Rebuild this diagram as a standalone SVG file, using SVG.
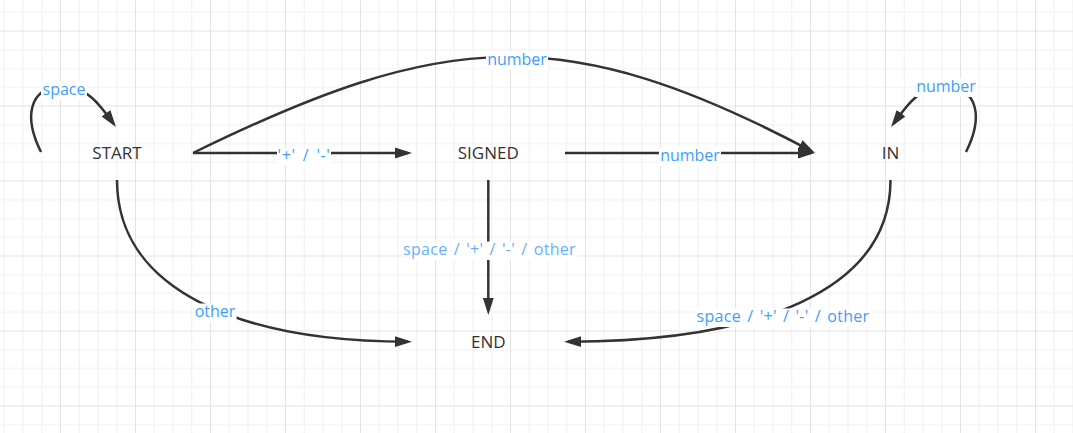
<svg xmlns="http://www.w3.org/2000/svg" width="1073" height="433" viewBox="0 0 1073 433">
  <style>
    .node { font-family: "Open Sans", "Liberation Sans", sans-serif; font-size: 17px; fill: #333333; text-anchor: middle; }
    .edge { fill: none; stroke: #333333; stroke-width: 2.5; marker-end: url(#arrow); }
    .loop { fill: none; stroke: #333333; stroke-width: 2.5; marker-end: url(#arrow); }
    .lbl { font-family: "Open Sans", "Liberation Sans", sans-serif; font-size: 16px; fill: #409eff; text-anchor: middle; }
    .lbl.light { fill: #66b1ff; }
    .lblbg { fill: #ffffff; }
    .gmin { fill: #efefef; }
    .gmaj { fill: #e3e3e3; }
  </style>
  <defs>
    <pattern id="grid" x="60" y="30.5" width="75" height="75" patternUnits="userSpaceOnUse">
      <rect class="gmin" x="18.75" y="0" width="1" height="75"/>
      <rect class="gmin" x="37.5" y="0" width="1" height="75"/>
      <rect class="gmin" x="56.25" y="0" width="1" height="75"/>
      <rect class="gmin" x="0" y="18.75" width="75" height="1"/>
      <rect class="gmin" x="0" y="37.5" width="75" height="1"/>
      <rect class="gmin" x="0" y="56.25" width="75" height="1"/>
      <rect class="gmaj" x="0" y="0" width="1" height="75"/>
      <rect class="gmaj" x="0" y="0" width="75" height="1"/>
    </pattern>
    <marker id="arrow" markerUnits="userSpaceOnUse" markerWidth="18" markerHeight="12" viewBox="0 0 18 12" refX="13" refY="6" orient="auto">
      <path d="M0,0.6 L17,6 L0,11.4 Z" fill="#333333"/>
    </marker>
  </defs>

  <rect x="0" y="0" width="1073" height="433" fill="#ffffff"/>
  <rect x="0" y="0" width="1073" height="433" fill="url(#grid)"/>

  <g id="connectors">
    <g id="e-start-signed">
      <path class="edge" d="M193,153 H408"/>
      <rect class="lblbg" x="277" y="147.5" width="54" height="18.5"/>
      <text class="lbl" x="304" y="161" style="word-spacing:2.5px;letter-spacing:0.6px">'+' / '-'</text>
    </g>
    <g id="e-signed-in">
      <path class="edge" d="M565,153 H811"/>
      <rect class="lblbg" x="659" y="147.5" width="62" height="18.5"/>
      <text class="lbl" x="690" y="161">number</text>
    </g>
    <g id="e-start-in">
      <path class="edge" d="M193,153 C443.7,30.2 564.3,20.1 811.5,151.1"/>
      <rect class="lblbg" x="486" y="51.5" width="62" height="18.5"/>
      <text class="lbl" x="517" y="65">number</text>
    </g>
    <g id="e-signed-end">
      <path class="edge" d="M488.3,180 V311"/>
      <rect class="lblbg" x="402.5" y="241.5" width="175" height="18.5"/>
      <text class="lbl light" x="489.5" y="255" style="word-spacing:1.8px;letter-spacing:0.3px">space / '+' / '-' / other</text>
    </g>
    <g id="e-start-end">
      <path class="edge" d="M117,180 C117,290 240,341.7 408,341.7"/>
      <rect class="lblbg" x="193.5" y="303.5" width="43" height="18.5"/>
      <text class="lbl" x="215" y="317">other</text>
    </g>
    <g id="e-in-end">
      <path class="edge" d="M890.5,180 C890.5,290 760,341.7 568,341.7"/>
      <rect class="lblbg" x="695.5" y="308.5" width="175" height="18.5"/>
      <text class="lbl" x="783" y="322" style="word-spacing:1.8px;letter-spacing:0.3px">space / '+' / '-' / other</text>
    </g>
    <g id="e-start-loop">
      <path class="loop" d="M41,152 C24,118 28,88 62,86 C88,87 100,105 113.6,123.8"/>
      <rect class="lblbg" x="41" y="81.5" width="46" height="18.5"/>
      <text class="lbl" x="64" y="95">space</text>
    </g>
    <g id="e-in-loop">
      <path class="loop" d="M966,152 C983,118 979,88 945,86 C919,87 907,105 893.4,123.8"/>
      <rect class="lblbg" x="915" y="78.5" width="62" height="18.5"/>
      <text class="lbl" x="946" y="92">number</text>
    </g>
  </g>

  <g id="node-start"><text class="node" x="117" y="159.3">START</text></g>
  <g id="node-signed"><text class="node" x="488.3" y="159.3">SIGNED</text></g>
  <g id="node-in"><text class="node" x="890.5" y="159.3">IN</text></g>
  <g id="node-end"><text class="node" x="488.3" y="348.3">END</text></g>
</svg>
